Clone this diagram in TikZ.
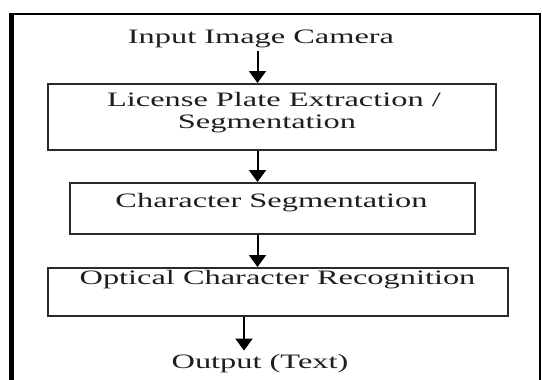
\documentclass[tikz,border=0pt]{standalone}
\usepackage{fontspec}
\setmainfont{Liberation Serif}[FakeStretch=1.58]
\usetikzlibrary{arrows.meta}
\definecolor{txt}{HTML}{1E1E1E}
\definecolor{boxgray}{HTML}{2A2A2A}
\begin{document}
\begin{tikzpicture}[x=1pt,y=-1pt,
  box/.style={draw=boxgray, line width=1.8pt, inner sep=0pt, anchor=north west},
  lbl/.style={anchor=base, inner sep=0pt, text=txt, font=\fontsize{20.5}{22}\selectfont},
  arr/.style={line width=2pt, draw=black, -{Triangle[width=17pt,length=12pt]}}]
\useasboundingbox (0,0) rectangle (542,380);
\fill[white] (0,0) rectangle (542,380);
% outer frame
\draw[line width=4.5pt, black] (11.5,381) -- (11.5,12.7);
\draw[line width=2.6pt, black] (9.25,14) -- (541,14);
\draw[line width=2pt, black] (540,12.7) -- (540,381);
% boxes
\node[box, minimum width=448pt, minimum height=66pt] (b1) at (47,83) {};
\node[box, minimum width=405pt, minimum height=51pt] (b2) at (69,182) {};
\node[box, minimum width=460pt, minimum height=48pt] (b3) at (47,267) {};
% labels
\node[lbl] (t0) at (261,44) {Input Image Camera};
\node[lbl] (t1a) at (274,106) {License Plate Extraction /};
\node[lbl] (t1b) at (267,128) {Segmentation};
\node[lbl] (t2) at (271.5,207) {Character Segmentation};
\node[lbl] (t3) at (277.5,284) {Optical Character Recognition};
\node[lbl] (t4) at (260,368) {Output (Text)};
% arrows
\coordinate (c1) at (257.5,0);
\coordinate (c4) at (244,0);
\draw[arr, shorten <=2pt] (t0.south -| c1) -- (b1.north -| c1);
\draw[arr] (b1.south -| c1) -- (b2.north -| c1);
\draw[arr] (b2.south -| c1) -- (b3.north -| c1);
\draw[arr, shorten >=3pt] (b3.south -| c4) -- (t4.north -| c4);
\end{tikzpicture}
\end{document}
